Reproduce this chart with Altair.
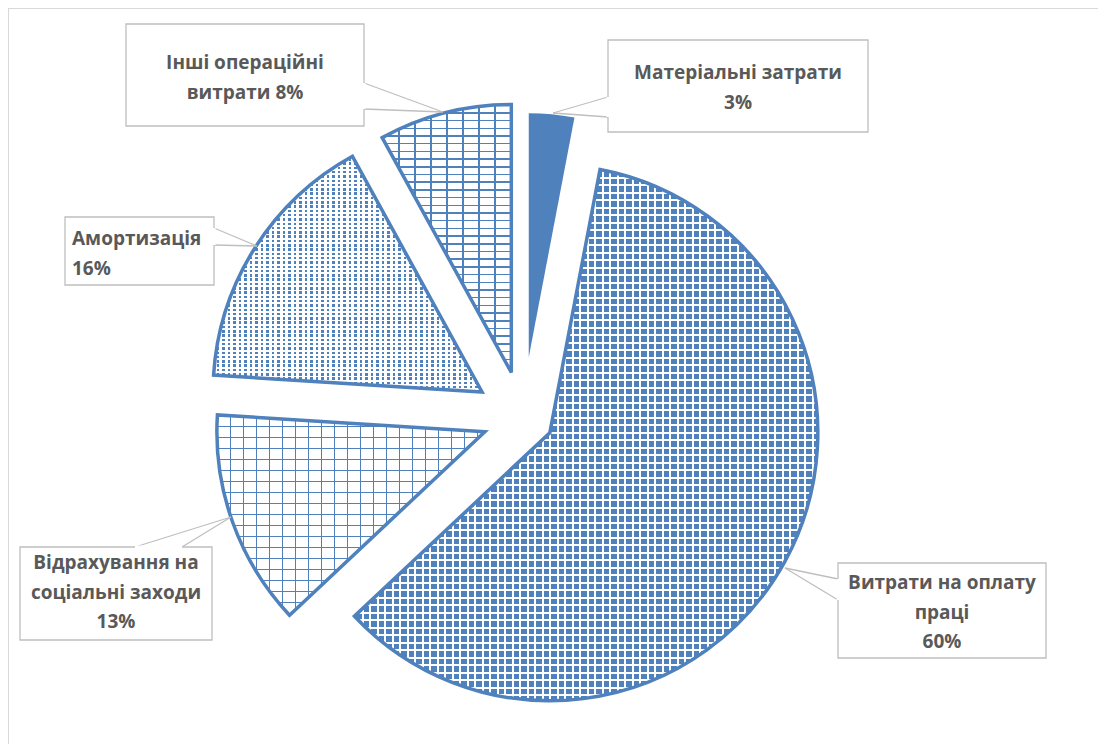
import math
import altair as alt
import pandas as pd

# ---------------- data ----------------
categories = ["Матеріальні затрати", "Витрати на оплату праці",
              "Відрахування на соціальні заходи", "Амортизація",
              "Інші операційні витрати"]
values = [3, 60, 13, 16, 8]
label_names = ["Матеріальні затрати", "Витрати на оплату\nпраці",
               "Відрахування на\nсоціальні заходи", "Амортизація",
               "Інші операційні\nвитрати"]
label_seps = ["\n", "\n", "\n", "\n", " "]

# ---------------- layout / style ----------------
W, H = 1090, 736
CX, CY = 515, 410
explode = [61, 30.6, 40.5, 48.5, 47]
radius = [244, 268, 268, 269, 268]
BLUE = "#4f81bd"
GRAY = "#bfbfbf"
TEXT = "#595959"
FONT = "Open Sans"

# label boxes (chart pixel coordinates)
box_x0 = [600, 830, 12, 57, 118]
box_y0 = [32, 555, 539, 209, 16]
box_x1 = [860, 1038, 204, 206, 356]
box_y1 = [124, 650, 632, 277, 118]
text_x = [730, 934, 108, 64, 237]
text_y = [65, 575, 555, 231, 55]
text_align = ["center", "center", "center", "left", "center"]
ptr_b1 = [(600, 89), (830, 571), (127, 539), (206, 220), (356, 75)]
ptr_b2 = [(600, 109), (830, 592), (174, 539), (206, 237), (356, 101)]
ptr_tip = [(545, 105), (777, 560), (223, 509), (249, 238), (435, 104)]

# pattern approximations (axis, period, thickness, colour)
patterns = {
    1: (BLUE, [("h", 7.5, 1.6, "white"), ("v", 7.5, 1.6, "white")]),
    2: ("white", [("h", 11, 1.3, BLUE), ("v", 13, 1.3, BLUE)]),
    3: (BLUE, [("h", 4.3, 1.8, "white"), ("v", 5.5, 3.0, "white")]),
    4: ("white", [("h", 7.7, 1.5, BLUE), ("v", 16, 1.5, BLUE)]),
}

df = pd.DataFrame({"cat": categories, "value": values, "idx": list(range(len(values))),
                   "explode": explode, "r": radius})

# bounding boxes of each sector (needed to scale stripe gradients)
total = sum(values)
bboxes = []
cum = 0
for i, v in enumerate(values):
    t0 = 2 * math.pi * cum / total
    cum += v
    t1 = 2 * math.pi * cum / total
    mid = (t0 + t1) / 2
    ax = CX + explode[i] * math.sin(mid)
    ay = CY - explode[i] * math.cos(mid)
    r = radius[i]
    pts = [(ax, ay), (ax + r * math.sin(t0), ay - r * math.cos(t0)),
           (ax + r * math.sin(t1), ay - r * math.cos(t1))]
    for k in range(5):
        a = k * math.pi / 2
        if t0 < a < t1:
            pts.append((ax + r * math.sin(a), ay - r * math.cos(a)))
    xs = [p[0] for p in pts]
    ys = [p[1] for p in pts]
    bboxes.append((min(xs), min(ys), max(xs), max(ys)))


def stripe_fill(lo, hi, period, thick, color, axis):
    span = hi - lo
    off = "rgba(255,255,255,0)"
    stops = [{"offset": 0, "color": off}]
    y = lo
    while y < hi:
        a = max(0.0, (y - lo) / span)
        b = min(1.0, (y + thick - lo) / span)
        if b > a:
            a, b = round(a, 5), round(b, 5)
            stops += [{"offset": a, "color": off}, {"offset": a, "color": color},
                      {"offset": b, "color": color}, {"offset": b, "color": off}]
        y += period
    stops.append({"offset": 1, "color": off})
    if axis == "h":
        return {"gradient": "linear", "x1": 0, "x2": 0, "y1": 0, "y2": 1, "stops": stops}
    return {"gradient": "linear", "x1": 0, "x2": 1, "y1": 0, "y2": 0, "stops": stops}


enc = dict(
    x=alt.X("px:Q", scale=None, axis=None),
    y=alt.Y("py:Q", scale=None, axis=None),
    theta=alt.Theta("t0:Q", scale=None),
    theta2=alt.Theta2("t1:Q"),
    radius=alt.Radius("r:Q", scale=None),
)

fill_layers = []
stroke_layers = []
for i in range(len(values)):
    base = alt.Chart().transform_filter(f"datum.idx == {i}")
    if i not in patterns:
        fill_layers.append(base.mark_arc(fill=BLUE, strokeWidth=0).encode(**enc))
        continue
    bcol, layers = patterns[i]
    fill_layers.append(base.mark_arc(fill=bcol, strokeWidth=0).encode(**enc))
    x0, y0, x1, y1 = bboxes[i]
    for axis, period, thick, col in layers:
        if axis == "h":
            g = stripe_fill(y0, y1, period, thick, col, "h")
        else:
            g = stripe_fill(x0, x1, period, thick, col, "v")
        fill_layers.append(base.mark_arc(fill=g, strokeWidth=0).encode(**enc))
    stroke_layers.append(base.mark_arc(fill="white", fillOpacity=0, stroke=BLUE,
                                       strokeWidth=3.5).encode(**enc))

pie = (alt.layer(*fill_layers, *stroke_layers, data=df)
       .transform_window(cum="sum(value)", sort=[alt.SortField("idx")], frame=[None, 0])
       .transform_joinaggregate(total="sum(value)")
       .transform_calculate(t0="2*PI*(datum.cum-datum.value)/datum.total")
       .transform_calculate(t1="2*PI*datum.cum/datum.total")
       .transform_calculate(mid="(datum.t0+datum.t1)/2")
       .transform_calculate(px=f"{CX}+datum.explode*sin(datum.mid)")
       .transform_calculate(py=f"{CY}-datum.explode*cos(datum.mid)"))

# ---------------- labels ----------------
lab = pd.DataFrame({
    "text": [n + s + f"{v}%" for n, s, v in zip(label_names, label_seps, values)],
    "bx0": box_x0, "by0": box_y0, "bx1": box_x1, "by1": box_y1,
    "tx": text_x, "ty": text_y, "align": text_align,
    "g1x": [p[0] for p in ptr_b1], "g1y": [p[1] for p in ptr_b1],
    "g2x": [p[0] for p in ptr_b2], "g2y": [p[1] for p in ptr_b2],
})
segs = pd.DataFrame({
    "x": [p[0] for p in ptr_b1] + [p[0] for p in ptr_b2],
    "y": [p[1] for p in ptr_b1] + [p[1] for p in ptr_b2],
    "x2": [p[0] for p in ptr_tip] * 2,
    "y2": [p[1] for p in ptr_tip] * 2,
})
frame = pd.DataFrame({"x": [0, 0.5], "y": [0.5, 0], "x2": [W, 0.5], "y2": [0.5, H]})

boxes = alt.Chart(lab).mark_rect(fill="white", stroke=GRAY, strokeWidth=1.3).encode(
    x=alt.X("bx0:Q", scale=None, axis=None), x2="bx1:Q",
    y=alt.Y("by0:Q", scale=None, axis=None), y2="by1:Q")
gaps = alt.Chart(lab).mark_rule(color="white", strokeWidth=3).encode(
    x=alt.X("g1x:Q", scale=None, axis=None), y=alt.Y("g1y:Q", scale=None, axis=None),
    x2="g2x:Q", y2="g2y:Q")
pointers = alt.Chart(segs).mark_rule(color=GRAY, strokeWidth=1.3).encode(
    x=alt.X("x:Q", scale=None, axis=None), y=alt.Y("y:Q", scale=None, axis=None),
    x2="x2:Q", y2="y2:Q")
frame_lines = alt.Chart(frame).mark_rule(color="#d9d9d9", strokeWidth=1).encode(
    x=alt.X("x:Q", scale=None, axis=None), y=alt.Y("y:Q", scale=None, axis=None),
    x2="x2:Q", y2="y2:Q")

text_layers = []
for al in ["center", "left"]:
    text_layers.append(
        alt.Chart(lab).transform_filter(f"datum.align == '{al}'")
        .mark_text(font=FONT, fontWeight="bold", fontSize=19, color=TEXT,
                   lineBreak="\n", lineHeight=29.5, baseline="middle", align=al)
        .encode(x=alt.X("tx:Q", scale=None, axis=None),
                y=alt.Y("ty:Q", scale=None, axis=None), text="text:N"))

chart = (alt.layer(frame_lines, pie, pointers, boxes, gaps, *text_layers)
         .properties(width=W, height=H, padding=0, autosize="none")
         .configure_view(stroke=None))

chart.save("out.html", embed_options={"renderer": "svg", "actions": False})
